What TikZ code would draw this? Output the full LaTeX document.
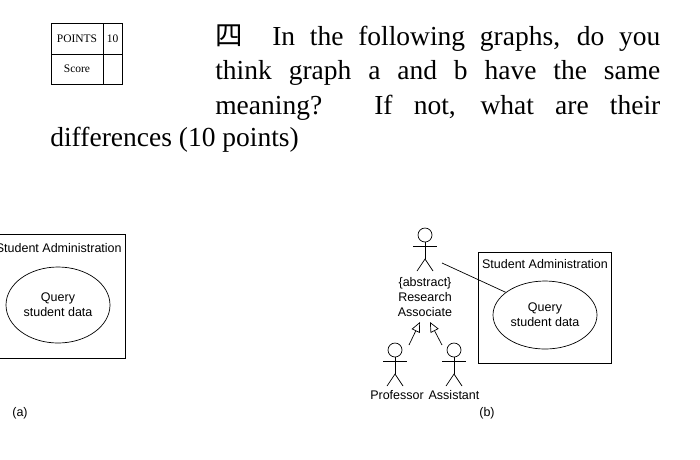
\documentclass[tikz,border=0pt]{standalone}
\usepackage{fontspec}
\setmainfont{Liberation Serif}
\setsansfont{Liberation Sans}
\newfontfamily\cjk{Noto Sans CJK SC}
\usetikzlibrary{arrows.meta,shapes.geometric}
\begin{document}
\begin{tikzpicture}[x=1pt,y=-1pt,line width=0.7pt,
  lbl/.style={font=\sffamily\fontsize{12.5}{15}\selectfont,inner sep=0pt,align=center},
  uc/.style={draw,ellipse,minimum width=104pt,minimum height=68pt,lbl},
  gen/.style={-{Triangle[open,length=10pt,width=9pt]}},
  q/.style={anchor=west,inner sep=0pt,font=\fontsize{27.5}{30}\selectfont},
  tb/.style={font=\fontsize{11.5}{13}\selectfont,inner sep=0pt}]
\useasboundingbox (0,0) rectangle (700,459);
% score table
\draw (51,23) rectangle (122,84) (103,23)--(103,84) (51,54)--(122,54);
\node[tb] (pts) at (77,39) {POINTS};
\node[tb] (ten) at (112.5,39) {10};
\node[tb] (sc) at (77,69) {Score};
% question
\node[q] (q1) at (215,38) {\makebox[445pt][s]{{\cjk 四}\ \ In the following graphs, do you}};
\node[q] (q2) at (215,73) {\makebox[445pt][s]{think graph a and b have the same}};
\node[q] (q3) at (215,108) {\makebox[445pt][s]{meaning? If not, what are their}};
\node[q] (q4) at (50,140) {differences (10 points)};
% (a)
\begin{scope}
\clip (0,0) rectangle (700,459);
\draw (-40,234) rectangle (125,358);
\node[lbl,anchor=east] (ta) at (122,248) {Student Administration};
\node[uc,minimum height=76pt] (ua) at (58,305) {Query\\student data};
\end{scope}
\node[lbl] at (20,413) {(a)};
% (b)
\draw (478,252) rectangle (611,363);
\node[lbl] (tb) at (545,264) {Student Administration};
\node[uc] (ub) at (545,315) {Query\\student data};
\newcommand\actor[3]{%
 \draw (#2,#3) circle (7pt);
 \draw (#2,#3+7) -- (#2,#3+24) coordinate (#1leg);
 \draw (#2-12,#3+11) -- (#2+12,#3+11);
 \draw (#2-8,#3+36) -- (#1leg) -- (#2+8,#3+36);
 \coordinate (#1top) at (#2,#3-7);}
\actor{ra}{425}{235}
\actor{pr}{395}{350}
\actor{as}{454}{350}
\node[lbl] (ral) at (425,297) {\{abstract\}\\Research\\Associate};
\node[lbl] (prl) at (397,395) {Professor};
\node[lbl] (asl) at (454,395) {Assistant};
\coordinate (raR) at (442,263);
\draw (raR) -- (ub.150);
\coordinate (pa) at (409,345); \coordinate (pt) at (420,322);
\coordinate (aa) at (442,345); \coordinate (at) at (430,322);
\draw[gen] (pa) -- (pt);
\draw[gen] (aa) -- (at);
\node[lbl] at (487,413) {(b)};
\end{tikzpicture}
\end{document}
